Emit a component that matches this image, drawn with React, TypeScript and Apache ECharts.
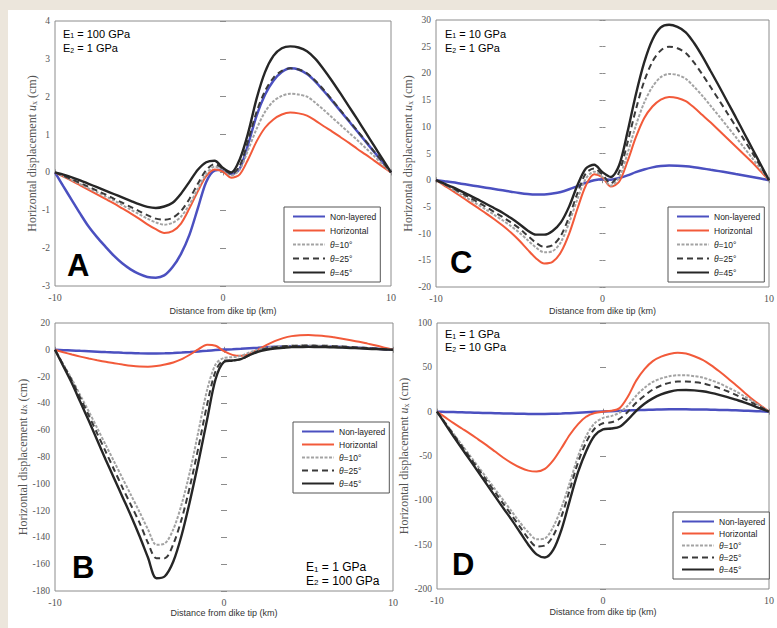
import React, { useEffect, useRef } from 'react';
import * as echarts from 'echarts';

// ---- data (x every 0.5 km) ----
const distanceKm = [-10, -9.5, -9, -8.5, -8, -7.5, -7, -6.5, -6, -5.5, -5, -4.5, -4, -3.5, -3, -2.5, -2, -1.5, -1, -0.5, 0, 0.5, 1, 1.5, 2, 2.5, 3, 3.5, 4, 4.5, 5, 5.5, 6, 6.5, 7, 7.5, 8, 8.5, 9, 9.5, 10];
const xTicks = [-10, 0, 10];
const seriesNames = ['Non-layered', 'Horizontal', 'θ=10°', 'θ=25°', 'θ=45°'];

// Panel A  (E1 = 100 GPa, E2 = 1 GPa)
const aNonLayered = [0, -0.37, -0.73, -1.09, -1.43, -1.71, -1.96, -2.2, -2.4, -2.56, -2.68, -2.76, -2.78, -2.72, -2.5, -2.15, -1.65, -0.95, -0.25, 0.05, 0.07, -0.05, 0.1, 0.75, 1.5, 2.05, 2.42, 2.65, 2.75, 2.72, 2.6, 2.4, 2.15, 1.89, 1.62, 1.35, 1.08, 0.81, 0.54, 0.27, 0];
const aHorizontal = [0, -0.11, -0.22, -0.34, -0.46, -0.58, -0.7, -0.82, -0.95, -1.08, -1.22, -1.37, -1.5, -1.6, -1.55, -1.35, -0.95, -0.5, -0.1, 0.08, 0.02, -0.14, -0.05, 0.35, 0.82, 1.18, 1.4, 1.53, 1.58, 1.56, 1.5, 1.37, 1.22, 1.08, 0.93, 0.78, 0.62, 0.47, 0.31, 0.155, 0];
const aTheta10 = [0, -0.1, -0.2, -0.31, -0.42, -0.52, -0.63, -0.74, -0.86, -0.98, -1.1, -1.22, -1.32, -1.38, -1.33, -1.17, -0.85, -0.43, -0.04, 0.15, 0.08, -0.08, 0.08, 0.6, 1.15, 1.6, 1.88, 2.02, 2.08, 2.06, 2.0, 1.84, 1.65, 1.45, 1.25, 1.05, 0.85, 0.64, 0.43, 0.21, 0];
const aTheta25 = [0, -0.09, -0.18, -0.28, -0.38, -0.48, -0.58, -0.69, -0.8, -0.91, -1.02, -1.13, -1.22, -1.25, -1.2, -1.02, -0.7, -0.3, 0.06, 0.22, 0.1, -0.04, 0.18, 0.85, 1.6, 2.15, 2.5, 2.68, 2.75, 2.72, 2.62, 2.42, 2.18, 1.91, 1.64, 1.37, 1.1, 0.83, 0.55, 0.28, 0];
const aTheta45 = [0, -0.06, -0.13, -0.21, -0.3, -0.39, -0.48, -0.57, -0.66, -0.75, -0.84, -0.91, -0.94, -0.9, -0.8, -0.56, -0.25, 0.07, 0.27, 0.31, 0.12, 0.0, 0.35, 1.05, 1.95, 2.65, 3.08, 3.28, 3.33, 3.3, 3.2, 3.0, 2.72, 2.41, 2.08, 1.74, 1.4, 1.05, 0.7, 0.35, 0];

// Panel C  (E1 = 10 GPa, E2 = 1 GPa)
const cNonLayered = [0, -0.2, -0.4, -0.65, -0.9, -1.15, -1.4, -1.65, -1.9, -2.15, -2.4, -2.6, -2.7, -2.7, -2.5, -2.2, -1.7, -1.1, -0.5, 0, 0.2, 0.1, 0.4, 0.9, 1.5, 2.0, 2.4, 2.65, 2.75, 2.7, 2.6, 2.42, 2.2, 1.95, 1.7, 1.43, 1.15, 0.88, 0.6, 0.3, 0];
const cHorizontal = [0, -1, -2, -3.05, -4.1, -5.15, -6.2, -7.3, -8.5, -9.8, -11.3, -13.0, -14.6, -15.6, -15.3, -13.5, -10, -5.3, -1, 1.1, 0.5, -1.2, -0.3, 3.5, 8, 11.6, 13.8, 15.1, 15.6, 15.4, 14.8, 13.6, 12.2, 10.8, 9.3, 7.8, 6.3, 4.8, 3.3, 1.65, 0];
const cTheta10 = [0, -0.85, -1.7, -2.65, -3.6, -4.55, -5.5, -6.5, -7.5, -8.6, -9.8, -11.2, -12.6, -13.5, -13.3, -11.6, -7.9, -3.5, 0.3, 1.6, 0.6, -1.0, 0.5, 5, 10.2, 14.5, 17.5, 19.3, 19.9, 19.7, 19, 17.5, 15.8, 13.9, 12, 10.05, 8.1, 6.1, 4.1, 2.05, 0];
const cTheta25 = [0, -0.75, -1.5, -2.35, -3.2, -4.1, -5, -5.95, -6.9, -7.9, -9, -10.4, -11.7, -12.5, -12.2, -10.4, -6.8, -2.4, 1.3, 2.2, 1, -0.6, 1.5, 7, 13.2, 18.5, 22.2, 24.3, 25, 24.7, 23.8, 22, 19.8, 17.4, 15, 12.55, 10.1, 7.6, 5.1, 2.55, 0];
const cTheta45 = [0, -0.65, -1.3, -2.05, -2.8, -3.6, -4.4, -5.25, -6.1, -7.1, -8.2, -9.4, -10.2, -10.2, -9.5, -7.9, -4.9, -0.9, 2.2, 2.9, 1.5, 0.6, 2.8, 9, 16, 22, 26.3, 28.6, 29.1, 28.7, 27.7, 25.7, 23.2, 20.4, 17.6, 14.7, 11.8, 8.85, 5.9, 2.95, 0];

// Panel B  (E1 = 1 GPa, E2 = 100 GPa)
const bNonLayered = [0, -0.25, -0.5, -0.8, -1.1, -1.4, -1.7, -1.95, -2.2, -2.4, -2.6, -2.7, -2.7, -2.6, -2.4, -2.1, -1.7, -1.2, -0.7, -0.2, 0.2, 0.4, 0.7, 1.1, 1.5, 1.9, 2.2, 2.5, 2.6, 2.65, 2.7, 2.6, 2.5, 2.3, 2.1, 1.85, 1.6, 1.25, 0.9, 0.45, 0];
const bHorizontal = [0, -1.8, -3.5, -5.1, -6.5, -7.8, -9, -10, -11, -11.9, -12.5, -12.6, -12.1, -11, -9.5, -7, -3.5, 0.5, 3.8, 3, -1, -3.8, -4.5, -3, 0, 3.5, 6.5, 8.7, 10.2, 10.8, 11, 10.7, 10.2, 9.3, 8.3, 7.2, 6, 4.6, 3.2, 1.6, 0];
const bTheta10 = [0, -11, -22, -34, -46, -58.5, -71, -83.5, -96, -108.5, -121, -134, -145.5, -144.5, -134, -115, -90, -60, -30, -11, -6, -5.5, -4.5, -2, 0, 1.5, 2.3, 2.8, 3, 3.1, 3.2, 3.1, 3, 2.7, 2.4, 2.05, 1.7, 1.3, 0.9, 0.45, 0];
const bTheta25 = [0, -11.5, -23, -36, -49, -62.5, -76, -89.5, -103, -116, -129, -144, -155.5, -155.5, -145, -126, -101, -72, -41, -16, -8, -8, -7, -4, -1, 1, 2, 2.6, 3, 3.1, 3.2, 3.1, 3, 2.7, 2.4, 2.05, 1.7, 1.3, 0.9, 0.45, 0];
const bTheta45 = [0, -12.5, -25, -39, -53, -67.5, -82, -96, -110, -124, -139, -155, -170.5, -169, -158, -138, -112, -83, -52, -22, -9, -8, -7, -4, -1.5, 0, 1, 1.5, 2, 2.1, 2.2, 2.1, 2, 1.8, 1.6, 1.35, 1.1, 0.8, 0.5, 0.25, 0];

// Panel D  (E1 = 1 GPa, E2 = 10 GPa)
const dNonLayered = [0, -0.25, -0.5, -0.75, -1, -1.25, -1.5, -1.75, -2, -2.2, -2.4, -2.5, -2.6, -2.6, -2.4, -2.1, -1.7, -1.2, -0.7, -0.2, 0.3, 0.6, 0.9, 1.3, 1.7, 2, 2.3, 2.5, 2.6, 2.6, 2.6, 2.5, 2.4, 2.2, 2, 1.75, 1.5, 1.15, 0.8, 0.4, 0];
const dHorizontal = [0, -6.5, -13, -19, -25, -31.5, -38, -45, -52, -58, -63, -66.5, -67.5, -64.5, -55, -41, -26, -14, -5.5, -1.5, 0, 1, 4, 17, 35, 48, 57, 62, 65, 66.5, 65.5, 62.5, 58.5, 52.5, 45.5, 38, 30, 22, 14, 7, 0];
const dTheta10 = [0, -12.5, -25, -37.5, -50, -62.5, -75, -87.5, -100, -112.5, -125, -136, -144, -143, -130, -108, -80, -50, -27, -13, -7, -5, -1, 7, 18, 27, 33.5, 37.5, 40, 41, 41, 40, 38.5, 35.5, 32, 27.5, 23, 17.5, 12, 6, 0];
const dTheta25 = [0, -13, -26, -39, -52, -65, -78, -91, -104, -117, -130, -143, -152, -151, -140, -118, -88, -57, -34, -19, -13, -12, -8, 0, 10, 18, 25, 29.5, 32.5, 34, 34, 33.2, 32, 29.5, 26.5, 23, 19, 14.5, 10, 5, 0];
const dTheta45 = [0, -14, -28, -41.5, -55, -68.5, -82, -95.5, -109, -122, -136, -150, -161, -164.5, -156, -133, -100, -68, -44, -27, -20, -19, -17, -9, 1, 9, 15, 19.5, 22.5, 24.3, 24.5, 24, 23, 21.2, 19, 16.5, 13.5, 10.5, 7, 3.5, 0];

// ---- layout / styling ----
const serif = "'Liberation Serif', 'DejaVu Serif', serif";
const sans = "'Liberation Sans', Arial, sans-serif";

const lineStyles = [
  { color: '#4b50c0', width: 2.5, type: 'solid' as any },
  { color: '#f25a3a', width: 2, type: 'solid' as any },
  { color: '#a3a3a3', width: 2, type: [3, 1.5] as any },
  { color: '#3a3a3a', width: 2, type: [6, 4] as any },
  { color: '#262626', width: 2.4, type: 'solid' as any },
];

const panels = [
  {
    letter: 'A', grid: { left: 55, top: 21, width: 336, height: 265 },
    yMin: -3, yMax: 4, yInt: 1, series: [aNonLayered, aHorizontal, aTheta10, aTheta25, aTheta45],
    xNameGap: 20, yNameGap: 16,
    legend: { left: 284, top: 207, gap: 5 }, letterPos: [67, 265],
    e: { x: 63, y1: 33.5, y2: 48, e1: '100', e2: '1', size: 11 },
  },
  {
    letter: 'C', grid: { left: 436, top: 20, width: 336, height: 267 },
    yMin: -20, yMax: 30, yInt: 5, series: [cNonLayered, cHorizontal, cTheta10, cTheta25, cTheta45],
    xNameGap: 19, yNameGap: 21,
    legend: { left: 668, top: 207, gap: 5 }, letterPos: [450, 262],
    e: { x: 445, y1: 33.5, y2: 48, e1: '10', e2: '1', size: 11 },
  },
  {
    letter: 'B', grid: { left: 55, top: 323, width: 338, height: 268 },
    yMin: -180, yMax: 20, yInt: 20, series: [bNonLayered, bHorizontal, bTheta10, bTheta25, bTheta45],
    xNameGap: 17, yNameGap: 26,
    legend: { left: 293, top: 422, gap: 4 }, letterPos: [72, 567],
    e: { x: 306, y1: 567, y2: 580.5, e1: '1', e2: '100', size: 12 },
  },
  {
    letter: 'D', grid: { left: 437, top: 323, width: 336, height: 266 },
    yMin: -200, yMax: 100, yInt: 50, series: [dNonLayered, dHorizontal, dTheta10, dTheta25, dTheta45],
    xNameGap: 18, yNameGap: 27,
    legend: { left: 673, top: 512, gap: 3 }, letterPos: [452, 564],
    e: { x: 445, y1: 334, y2: 347, e1: '1', e2: '10', size: 11 },
  },
];

function buildOption() {
  const grid: any[] = [];
  const xAxis: any[] = [];
  const yAxis: any[] = [];
  const series: any[] = [];
  const legend: any[] = [];
  const graphic: any[] = [
    { type: 'rect', shape: { x: 8, y: 10, width: 769, height: 618 }, style: { fill: '#ffffff' }, z: -10, silent: true },
  ];

  panels.forEach((p, i) => {
    grid.push({ ...p.grid, show: true, borderColor: '#8c8c8c', borderWidth: 1, backgroundColor: '#ffffff' });
    const tick = { show: true, inside: true, length: 3, lineStyle: { color: '#8c8c8c' } };
    xAxis.push({
      gridIndex: i, type: 'value', min: xTicks[0], max: xTicks[2], interval: xTicks[1] - xTicks[0], position: 'bottom',
      axisLine: { show: false }, axisTick: tick, splitLine: { show: false },
      axisLabel: { fontFamily: serif, fontSize: 10, color: '#555', margin: 6 },
      name: 'Distance from dike tip (km)', nameLocation: 'middle', nameGap: p.xNameGap,
      nameTextStyle: { fontFamily: sans, fontSize: 9, color: '#333' },
    });
    xAxis.push({
      gridIndex: i, type: 'value', min: xTicks[0], max: xTicks[2], interval: xTicks[1] - xTicks[0], position: 'top',
      axisLine: { show: false }, axisTick: tick, splitLine: { show: false }, axisLabel: { show: false },
    });
    yAxis.push({
      gridIndex: i, type: 'value', min: p.yMin, max: p.yMax, interval: p.yInt, position: 'left',
      axisLine: { show: false }, axisTick: tick, splitLine: { show: false },
      axisLabel: { fontFamily: serif, fontSize: 9.5, color: '#555', margin: 5 },
      name: 'Horizontal displacement {i|u}{s|x} (cm)', nameLocation: 'middle', nameGap: p.yNameGap, nameRotate: 90,
      nameTextStyle: {
        fontFamily: serif, fontSize: 12, color: '#555',
        rich: {
          i: { fontFamily: serif, fontSize: 12, fontStyle: 'italic', color: '#555' },
          s: { fontFamily: serif, fontSize: 8, color: '#555', verticalAlign: 'bottom' },
        },
      },
    });
    yAxis.push({
      gridIndex: i, type: 'value', min: p.yMin, max: p.yMax, interval: p.yInt, position: 'right',
      axisLine: { show: false }, axisTick: tick, splitLine: { show: false }, axisLabel: { show: false },
    });

    p.series.forEach((vals, k) => {
      series.push({
        type: 'line', name: seriesNames[k], xAxisIndex: 2 * i, yAxisIndex: 2 * i,
        data: distanceKm.map((x, j) => [x, vals[j]]),
        smooth: 0.3, symbol: 'none', showSymbol: false,
        lineStyle: { ...lineStyles[k] }, itemStyle: { color: lineStyles[k].color },
        z: 2 + k,
      });
    });

    legend.push({
      data: seriesNames, orient: 'vertical', left: p.legend.left, top: p.legend.top,
      itemWidth: 32, itemHeight: 9, itemGap: p.legend.gap, padding: [5, 4, 5, 8],
      borderColor: '#555', borderWidth: 1, backgroundColor: '#ffffff', selectedMode: false,
      itemStyle: { color: 'rgba(0,0,0,0)', borderWidth: 0, opacity: 0 },
      textStyle: {
        fontFamily: sans, fontSize: 8.5, color: '#222', lineHeight: 9,
        rich: { i: { fontFamily: sans, fontSize: 8.5, fontStyle: 'italic', color: '#222' } },
      },
      formatter: (name: string) => (name.startsWith('θ') ? '{i|θ}' + name.slice(1) : name),
    });

    graphic.push({
      type: 'text', x: p.letterPos[0], y: p.letterPos[1], z: 10,
      style: { text: p.letter, fontFamily: sans, fontWeight: 'bold', fontSize: 31, fill: '#000', align: 'left', verticalAlign: 'middle' },
    });
    const richE = { s: { fontFamily: sans, fontSize: p.e.size - 4, fill: '#000', verticalAlign: 'bottom' } };
    graphic.push({
      type: 'text', x: p.e.x, y: p.e.y1, z: 10,
      style: { text: `E{s|1} = ${p.e.e1} GPa`, fontFamily: sans, fontSize: p.e.size, fill: '#000', align: 'left', verticalAlign: 'middle', rich: richE },
    });
    graphic.push({
      type: 'text', x: p.e.x, y: p.e.y2, z: 10,
      style: { text: `E{s|2} = ${p.e.e2} GPa`, fontFamily: sans, fontSize: p.e.size, fill: '#000', align: 'left', verticalAlign: 'middle', rich: richE },
    });
  });

  return {
    animation: false,
    backgroundColor: '#ece6dc',
    grid, xAxis, yAxis, series, legend, graphic,
  };
}

export default function App() {
  const ref = useRef<HTMLDivElement>(null);
  useEffect(() => {
    if (!ref.current) return;
    const chart = echarts.init(ref.current, undefined, { renderer: 'svg' });
    chart.setOption(buildOption() as any);
    return () => chart.dispose();
  }, []);
  return <div ref={ref} style={{ position: 'absolute', left: 0, top: 0, width: 777, height: 628 }} />;
}
